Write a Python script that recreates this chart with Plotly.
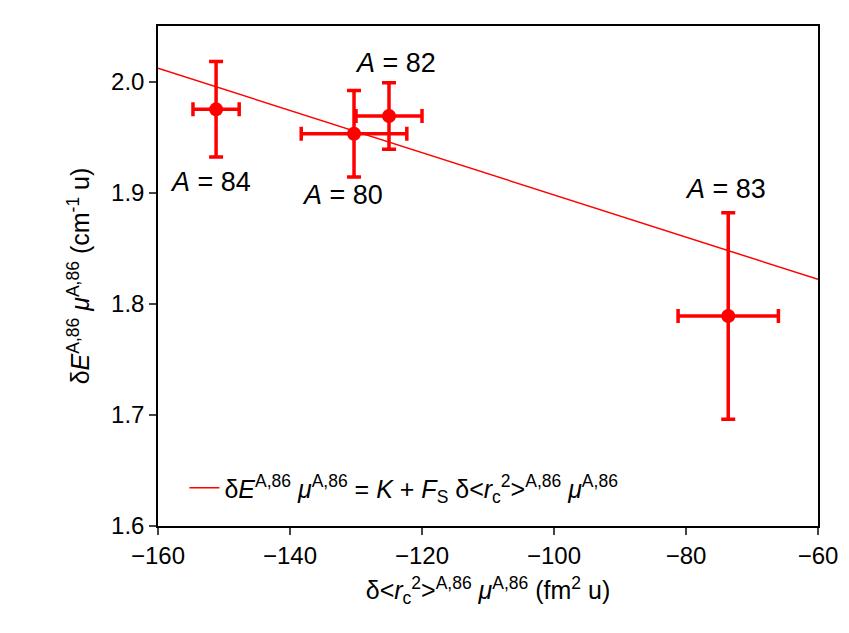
import plotly.graph_objects as go

labels = ["<i>A</i> = 84", "<i>A</i> = 80", "<i>A</i> = 82", "<i>A</i> = 83"]
x = [-151.2, -130.3, -125.0, -73.6]
y = [1.975, 1.953, 1.969, 1.789]
xerr = [3.5, 8.0, 5.0, 7.6]
yerr = [0.043, 0.039, 0.030, 0.093]
label_x = [-152, -132, -124, -74]
label_y = [1.91, 1.898, 2.017, 1.903]
fit_x = [-160, -60]
fit_y = [2.012, 1.822]

red = "#ff0000"
fig = go.Figure()
fig.add_trace(go.Scatter(x=fit_x, y=fit_y, mode="lines", line=dict(color=red, width=1.5),
    name="δ<i>E</i><sup>A,86</sup> <i>μ</i><sup>A,86</sup> = <i>K</i> + <i>F</i><sub>S</sub> δ&lt;<i>r</i><sub>c</sub><sup>2</sup>&gt;<sup>A,86</sup> <i>μ</i><sup>A,86</sup>"))
fig.add_trace(go.Scatter(x=x, y=y, mode="markers", marker=dict(color=red, size=14),
    error_x=dict(array=xerr, color=red, thickness=3.5, width=7),
    error_y=dict(array=yerr, color=red, thickness=3.5, width=7), showlegend=False))
for lx, ly, t in zip(label_x, label_y, labels):
    fig.add_annotation(x=lx, y=ly, text=t, showarrow=False, font=dict(size=27, color="black"))

ax = dict(showline=True, linecolor="black", linewidth=1.5, mirror=True, ticks="outside",
          ticklen=7, tickwidth=1.5, tickfont=dict(size=24, color="black"), showgrid=False,
          zeroline=False, automargin=False)
fig.update_layout(
    width=849, height=633, plot_bgcolor="white", paper_bgcolor="white",
    font=dict(family="Liberation Sans, Arial", color="black"),
    margin=dict(l=150, r=39, t=18, b=115),
    xaxis=dict(range=[-160, -60], dtick=20, title=dict(
        text="δ&lt;<i>r</i><sub>c</sub><sup>2</sup>&gt;<sup>A,86</sup> <i>μ</i><sup>A,86</sup> (fm<sup>2</sup> u)",
        font=dict(size=25), standoff=14), **ax),
    yaxis=dict(range=[1.6, 2.05], dtick=0.1, tickformat=".1f", title=dict(
        text="δ<i>E</i><sup>A,86</sup> <i>μ</i><sup>A,86</sup> (cm<sup>-1</sup> u)", font=dict(size=25),
        standoff=14), **ax),
    legend=dict(x=0.04, y=0.03, xanchor="left", yanchor="bottom", bgcolor="rgba(0,0,0,0)",
                font=dict(size=25)),
)
fig.write_html("out.html")
